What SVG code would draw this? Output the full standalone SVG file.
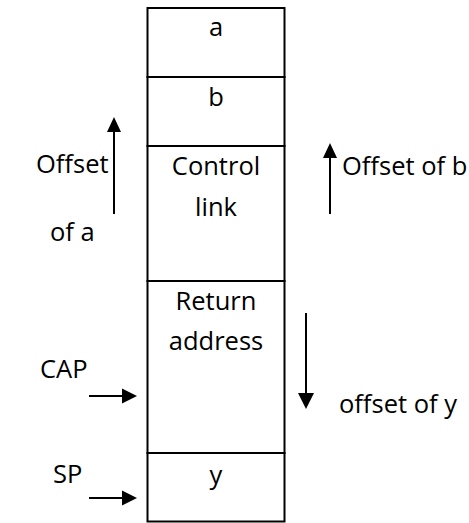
<svg xmlns="http://www.w3.org/2000/svg" width="469" height="523" viewBox="0 0 469 523">
  <defs>
    <style>
      .cell { fill: #ffffff; stroke: #000000; stroke-width: 2; }
      .lbl { font-family: "Open Sans", "DejaVu Sans", sans-serif; font-size: 25.5px; fill: #000000; }
      .mid { text-anchor: middle; }
      .wire { stroke: #000000; stroke-width: 2; fill: none; }
      .head { fill: #000000; stroke: none; }
    </style>
  </defs>
  <rect width="469" height="523" fill="#ffffff"/>

  <!-- stack frame cells -->
  <g id="cell-a">
    <rect class="cell" x="147.5" y="8" width="137" height="69"/>
    <text class="lbl mid" x="216" y="36">a</text>
  </g>
  <g id="cell-b">
    <rect class="cell" x="147.5" y="77" width="137" height="69"/>
    <text class="lbl mid" x="216" y="106">b</text>
  </g>
  <g id="cell-control-link">
    <rect class="cell" x="147.5" y="146" width="137" height="135"/>
    <text class="lbl mid" x="216" y="175">Control</text>
    <text class="lbl mid" x="216" y="216">link</text>
  </g>
  <g id="cell-return-address">
    <rect class="cell" x="147.5" y="281" width="137" height="172"/>
    <text class="lbl mid" x="216" y="310">Return</text>
    <text class="lbl mid" x="216" y="350">address</text>
  </g>
  <g id="cell-y">
    <rect class="cell" x="147.5" y="453" width="137" height="68.5"/>
    <text class="lbl mid" x="216" y="484">y</text>
  </g>

  <!-- side labels -->
  <g id="label-offset-a">
    <text class="lbl" x="36" y="173">Offset</text>
    <text class="lbl" x="50" y="241">of a</text>
  </g>
  <g id="label-offset-b">
    <text class="lbl" x="342" y="175">Offset of b</text>
  </g>
  <g id="label-offset-y">
    <text class="lbl" x="339" y="413">offset of y</text>
  </g>
  <g id="label-cap">
    <text class="lbl" x="40" y="378">CAP</text>
  </g>
  <g id="label-sp">
    <text class="lbl" x="53" y="483">SP</text>
  </g>

  <!-- arrows -->
  <g id="connectors">
    <line class="wire" x1="114" y1="214" x2="114" y2="131"/>
    <polygon class="head" points="114,117 107,132 121,132"/>

    <line class="wire" x1="330" y1="214" x2="330" y2="158"/>
    <polygon class="head" points="330,143 323,158 337,158"/>

    <line class="wire" x1="306" y1="313" x2="306" y2="395"/>
    <polygon class="head" points="306,409 298,393 314,393"/>

    <line class="wire" x1="89" y1="396" x2="123" y2="396"/>
    <polygon class="head" points="137,396 122,388.5 122,403.5"/>

    <line class="wire" x1="89" y1="498" x2="123" y2="498"/>
    <polygon class="head" points="137,498 122,490.5 122,505.5"/>
  </g>
</svg>
